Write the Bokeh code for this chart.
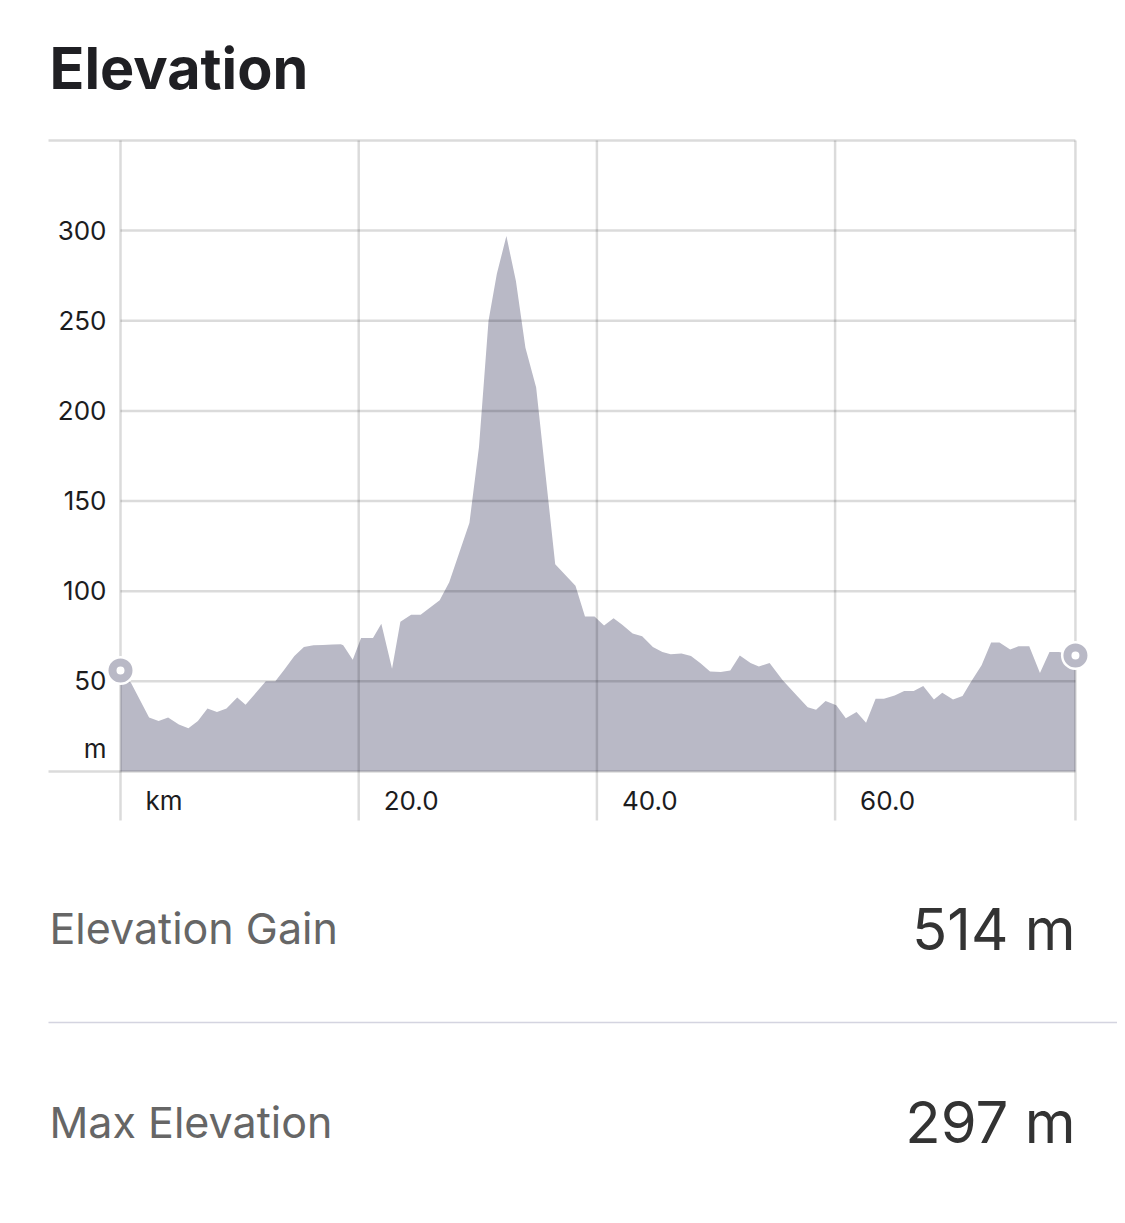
from bokeh.plotting import figure
from bokeh.models import Range1d
from bokeh.core.properties import value
from bokeh.embed import file_html
from bokeh.resources import INLINE

# ---------------- data ----------------
distance_km = [0.0, 0.9, 2.4, 3.2, 4.0, 4.9, 5.7, 6.5, 7.3, 8.1, 8.9, 9.8, 10.5,
               12.2, 13.0, 13.7, 14.6, 15.4, 16.2, 17.0, 17.8, 18.5, 18.7, 19.5,
               20.2, 21.2, 21.9, 22.8, 23.5, 24.4, 25.2, 26.0, 26.8, 27.6, 29.3,
               30.1, 30.9, 31.6, 32.4, 33.2, 34.0, 34.9, 36.5, 38.2, 39.0, 39.8,
               40.6, 41.4, 42.1, 43.0, 43.8, 44.7, 45.5, 46.2, 47.1, 47.9, 48.7,
               49.5, 50.4, 51.2, 52.0, 52.9, 53.6, 54.5, 55.6, 56.8, 57.7, 58.4,
               59.2, 60.1, 60.9, 61.8, 62.6, 63.4, 64.1, 65.0, 65.8, 66.6, 67.4,
               68.3, 69.0, 69.9, 70.7, 71.4, 72.3, 73.1, 73.8, 74.7, 75.4, 76.3,
               77.2, 78.0, 78.8, 80.18]
elevation_m = [56, 49, 30, 28, 30, 26, 24, 28, 35, 33, 35, 41, 37,
               50, 50, 56, 64, 69, 70, 70.2, 70.4, 70.6, 70, 62,
               74, 74, 82, 57, 83, 87, 87, 91, 95, 105, 138,
               180, 250, 276, 297, 272, 235, 213, 115, 103, 86, 86,
               81, 85, 81.5, 76.5, 75, 69, 66.3, 65, 65.4, 64, 60,
               55.5, 55.2, 56, 64.4, 60.2, 58.3, 60.2, 50.6, 42, 35.7, 34.3,
               39.1, 36.7, 29.6, 33, 27, 40.4, 40.4, 42.2, 44.6, 44.6, 47.4,
               40, 43.7, 40, 41.9, 49.6, 58.9, 71.5, 71.5, 67.6, 69.4, 69.4,
               54.6, 66.3, 66.3, 64.3]

y_max = 350
y_ticks = [50, 100, 150, 200, 250, 300]
y_tick_labels = ["50", "100", "150", "200", "250", "300"]
y_unit_label = "m"
x_ticks = [0, 20, 40, 60]
x_tick_labels = ["km", "20.0", "40.0", "60.0"]
title_text = "Elevation"
stat_names = ["Elevation Gain", "Max Elevation"]
stat_values = ["514 m", "297 m"]

# ---------------- layout helpers (page pixel -> data units) ----------------
W, H = 1117, 1215
PX_KM = 11.91
PX_M = 1.803


def X(ix):
    return (ix - 120) / PX_KM


def Y(iy):
    return (771 - iy) / PX_M


FONT = value("Inter")
AREA = "#b9b9c6"

p = figure(width=W, height=H, x_range=Range1d(X(0), X(W)),
           y_range=Range1d(Y(H), Y(0)), output_backend="svg",
           toolbar_location=None, x_axis_location=None, y_axis_location=None,
           min_border=0)
p.grid.visible = False
p.outline_line_color = None
p.background_fill_color = "white"
p.border_fill_color = "white"

# area
p.varea(x=distance_km, y1=[0] * len(distance_km), y2=elevation_m,
        fill_color=AREA, fill_alpha=1.0)

# grid lines (semi transparent, drawn over the area)
end_km = distance_km[-1]
GRID = dict(line_color="black", line_alpha=0.14, line_width=2.5)
# frame top / bottom lines run out to the left edge
edge_levels = [0, y_max]
p.segment(x0=[X(48)] * 2, y0=edge_levels, x1=[end_km] * 2, y1=edge_levels, **GRID)
# inner tick lines start at the first distance gridline
p.segment(x0=[distance_km[0]] * len(y_ticks), y0=y_ticks,
          x1=[end_km] * len(y_ticks), y1=y_ticks, **GRID)
v_levels = x_ticks + [end_km]
p.segment(x0=v_levels, y0=[Y(820)] * len(v_levels),
          x1=v_levels, y1=[y_max] * len(v_levels), **GRID)

# start / end markers
ends_x = [distance_km[0], distance_km[-1]]
ends_y = [elevation_m[0], elevation_m[-1]]
p.scatter(x=ends_x, y=ends_y, size=29, fill_color="white", line_color=None)
p.scatter(x=ends_x, y=ends_y, size=16, fill_color="white",
          line_color=AREA, line_width=8)

# y tick labels
p.text(x=[X(106)] * len(y_ticks), y=[t + 0.5 / PX_M for t in y_ticks],
       text=y_tick_labels, text_font=FONT, text_font_size="26px",
       text_align="right", text_baseline="alphabetic", text_color="#1c1c1e")
p.text(x=[X(106)], y=[Y(748)], text=[y_unit_label], text_font=FONT,
       text_font_size="26px", text_align="right", text_baseline="alphabetic",
       text_color="#1c1c1e")

# x tick labels
p.text(x=[t + 25 / PX_KM for t in x_ticks], y=[Y(800)] * len(x_ticks),
       text=x_tick_labels, text_font=FONT, text_font_size="26px",
       text_align="left", text_baseline="alphabetic", text_color="#1c1c1e")

# title
p.text(x=[X(49)], y=[Y(67)], text=[title_text], text_font=FONT,
       text_font_size="57.5px", text_font_style="bold", text_align="left",
       text_baseline="alphabetic", text_color="#1f1f23")

# stats
p.text(x=[X(49), X(49)], y=[Y(927), Y(1121)], text=stat_names, text_font=FONT,
       text_font_size="43px", text_align="left", text_baseline="alphabetic",
       text_color="#666666")
p.text(x=[X(1075), X(1075)], y=[Y(928), Y(1121)], text=stat_values,
       text_font=FONT, text_font_size="58px", text_align="right",
       text_baseline="alphabetic", text_color="#333333")

# separator
p.segment(x0=[X(48)], y0=[Y(1022)], x1=[X(W)], y1=[Y(1022)],
          line_color="#d4d4e0", line_width=1.5)

open("out.html", "w").write(file_html(p, INLINE))
